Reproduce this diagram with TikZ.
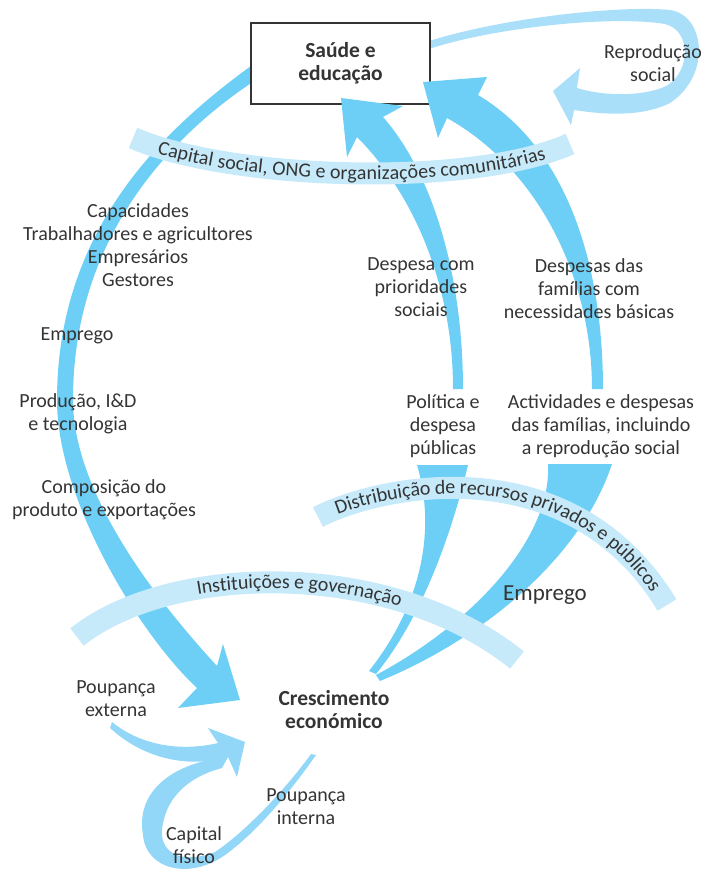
\documentclass[tikz,border=0pt]{standalone}
\usepackage{fontspec}
\setmainfont{Carlito}
\usetikzlibrary{decorations.text}

\definecolor{flow}{RGB}{109,207,246}
\definecolor{flowlight}{RGB}{146,215,247}
\definecolor{loopblue}{RGB}{170,223,249}
\definecolor{bandblue}{RGB}{198,234,250}
\definecolor{ink}{RGB}{52,52,52}

\newcommand\bandfont{\fontsize{20}{23}\selectfont\color{ink}}

\begin{document}
\begin{tikzpicture}[x=1pt,y=-1pt,
    font=\fontsize{20}{23}\selectfont,
    every node/.style={text=ink, align=center, inner sep=0pt},
    band/.style={draw=bandblue, line width=22pt},
    bandtext/.style={decorate, decoration={text along path, text align=center, raise=-6pt, text={|\bandfont|#1}}},
    title/.style={font=\fontsize{21.5}{23}\selectfont\bfseries}]

    \useasboundingbox (0,0) rectangle (712,871);

    \def\capitalband{(133,138) .. controls (230,180) and (470,188) .. (570,144)}
    \def\distribband{(318,517) .. controls (380,485) and (570,445) .. (667,605)}
    \def\instband{(77,637) .. controls (170,563) and (390,558) .. (517,660)}

    %big arc down to growth:
    \fill[flow] (262,58) .. controls (175,120) and (57,220) .. (57,400)
        .. controls (57,500) and (140,635) .. (197,688) -- (178,708) -- (240,700) -- (223,644) -- (217,666)
        .. controls (170,615) and (73,500) .. (73,400)
        .. controls (73,230) and (180,128) .. (262,76) -- cycle;

    %social reproduction loop:
    \fill[loopblue] (426,42) .. controls (500,18) and (620,5) .. (670,10)
        .. controls (705,15) and (712,75) .. (670,103)
        .. controls (640,118) and (600,114) .. (574,110) -- (571,125) -- (553,91) -- (580,68) -- (577,88)
        .. controls (610,98) and (650,95) .. (668,85)
        .. controls (692,68) and (690,30) .. (665,24)
        .. controls (610,15) and (490,28) .. (426,50) -- cycle;

    \node[title, draw=ink, fill=white, line width=1.2pt, minimum width=179pt, minimum height=81pt] (saude) at (340.5,63.5) {Saúde e\\educação};

    %upward arrows into the box:
    \fill[flow] (453,389) .. controls (453,280) and (410,190) .. (357,137) -- (347,157) -- (341,98) -- (403,106) -- (383,117)
        .. controls (430,170) and (463,270) .. (463,389) -- cycle;
    \fill[flow] (592,389) .. controls (592,280) and (540,170) .. (447,118) -- (438,138) -- (423,82) -- (487,77) -- (478,95)
        .. controls (570,150) and (603,270) .. (603,389) -- cycle;

    %wedges from growth:
    \fill[flow] (417,465) .. controls (435,525) and (425,600) .. (369,671) -- (376,674)
        .. controls (420,620) and (450,540) .. (468,465) -- cycle;
    \fill[flow] (548,464) .. controls (552,540) and (470,625) .. (376,675) -- (380,681)
        .. controls (480,640) and (580,560) .. (612,464) -- cycle;

    %savings and physical capital:
    \fill[flowlight] (112,722) .. controls (140,745) and (180,752) .. (218,743) -- (208,728) -- (245,742) -- (237,777) -- (228,757)
        .. controls (190,768) and (145,760) .. (110,728) -- cycle;
    \fill[flowlight] (228,757) .. controls (175,762) and (135,790) .. (143,835)
        .. controls (146,870) and (190,880) .. (225,855)
        .. controls (260,830) and (295,785) .. (316,755) -- (311,754)
        .. controls (285,790) and (245,832) .. (215,852)
        .. controls (185,864) and (160,855) .. (162,830)
        .. controls (165,800) and (185,778) .. (222,768) -- cycle;

    %bands:
    \draw[band] \capitalband;
    \draw[band] \distribband;
    \draw[band] \instband;
    \path[bandtext={Capital social, ONG e organizações comunitárias}] \capitalband;
    \path[bandtext={Distribuição de recursos privados e públicos}] \distribband;
    \path[bandtext={Instituições e governação}] \instband;

    %labels:
    \node (reproducao) at (653,63) {Reprodução\\social};
    \node (capacidades) at (138,245) {Capacidades\\Trabalhadores e agricultores\\Empresários\\Gestores};
    \node (emprego) at (77,336) {Emprego};
    \node (producao) at (78,414) {Produção, I\&D\\e tecnologia};
    \node (composicao) at (104,500) {Composição do\\produto e exportações};
    \node (despesa) at (421,287) {Despesa com\\prioridades\\sociais};
    \node (despesas) at (589,289) {Despesas das\\famílias com\\necessidades básicas};
    \node (politica) at (443,426) {Política e\\despesa\\públicas};
    \node (actividades) at (601,426) {Actividades e despesas\\das famílias, incluindo\\a reprodução social};
    \node[font=\fontsize{23}{23}\selectfont] (empregob) at (545,595) {Emprego};
    \node[title] (crescimento) at (334,710) {Crescimento\\económico};
    \node (externa) at (116,699) {Poupança\\externa};
    \node (fisico) at (194,845) {Capital\\físico};
    \node (interna) at (306,807) {Poupança\\interna};

\end{tikzpicture}
\end{document}
